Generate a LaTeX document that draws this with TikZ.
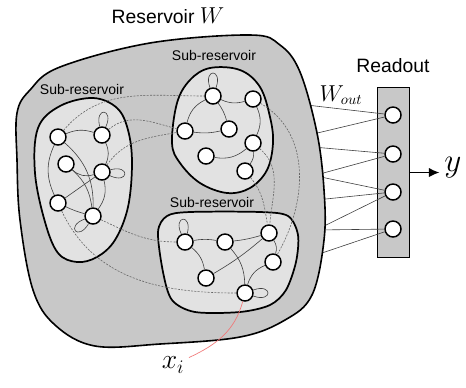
\documentclass[tikz,border=0pt]{standalone}
\usepackage{fontspec}
\setmainfont{Liberation Sans}
\usepackage{tikz}
\usetikzlibrary{arrows.meta}
\definecolor{resgray}{HTML}{C8C8C8}
\definecolor{subgray}{HTML}{E2E2E2}
\definecolor{wiregray}{HTML}{404040}
\definecolor{inred}{HTML}{F07878}
\tikzset{
  neuron/.style={circle,draw,fill=white,line width=1.1pt,minimum size=12pt,inner sep=0pt},
  wire/.style={wiregray,line width=0.45pt},
  link/.style={black!60,line width=0.45pt,dash pattern=on 1.5pt off 1pt},
  pool/.style={draw,fill=subgray,line width=1.3pt},
  sublabel/.style={font=\fontsize{10.5}{12}\selectfont}
}

\begin{document}
\begin{tikzpicture}[x=0.75pt,y=0.75pt]
\useasboundingbox (0,0) rectangle (466,-387);

\node[draw,fill=resgray,line width=1pt,minimum width=24.4pt,minimum height=127.5pt,inner sep=0pt] (readout) at (393.5,-172.5) {};
\node[neuron] (r1) at (393,-115) {};
\node[neuron] (r2) at (393,-154) {};
\node[neuron] (r3) at (393,-192) {};
\node[neuron] (r4) at (393,-229) {};
\node[font=\fontsize{14.5}{17}\selectfont] (rtitle) at (393,-66) {Readout};
\node[font=\fontsize{16}{18}\selectfont] (wout) at (341,-95) {$W_{out}$};
\node[font=\fontsize{25}{27}\selectfont] (y) at (453,-168) {$y$};
\draw[-{Latex[length=8pt,width=7pt]},line width=1.1pt] (readout) -- ++(46,0);

\coordinate (o1) at (298,-104);
\coordinate (o2) at (309,-135);
\coordinate (o3) at (313,-147);
\coordinate (o4) at (316,-175);
\coordinate (o5) at (316,-176);
\coordinate (o6) at (316,-200);
\coordinate (o7) at (318,-229);
\coordinate (o8) at (316,-230);
\coordinate (o9) at (316,-255);
\draw[wire] (o1) -- (r1);
\draw[wire] (o2) -- (r1);
\draw[wire] (o3) -- (r2);
\draw[wire] (o4) -- (r2);
\draw[wire] (o5) -- (r3);
\draw[wire] (o6) -- (r3);
\draw[wire] (o7) -- (r3);
\draw[wire] (o8) -- (r4);
\draw[wire] (o9) -- (r4);

\draw[fill=resgray,line width=1.2pt] plot[smooth cycle,tension=0.6] coordinates {(17,-113) (30,-90) (60,-67) (150,-43) (250,-35) (280,-45) (300,-72) (317,-133) (324,-190) (324,-240) (312,-295) (285,-320) (240,-337) (160,-344) (95,-346) (55,-325) (33,-290) (20,-220) (17,-160)};
\node[font=\fontsize{14.5}{17}\selectfont] (title) at (168,-16) {Reservoir \fontsize{19}{20}\selectfont$W$};

\draw[pool] plot[smooth cycle,tension=0.6] coordinates {(38,-128) (60,-106) (93,-98) (117,-108) (128,-130) (132,-163) (128,-207) (115,-240) (97,-257) (77,-262) (58,-253) (45,-222) (35,-173)};
\draw[pool] plot[smooth cycle,tension=0.6] coordinates {(172,-143) (177,-103) (190,-80) (210,-68) (240,-70) (260,-87) (270,-117) (273,-143) (267,-170) (250,-188) (227,-193) (200,-183) (180,-163)};
\draw[pool] plot[smooth cycle,tension=0.5] coordinates {(158,-232) (167,-216) (190,-212) (260,-212) (288,-216) (298,-235) (296,-262) (286,-290) (270,-305) (240,-312) (195,-312) (172,-300) (163,-272)};
\node[sublabel] (lleft) at (82,-89) {Sub-reservoir};
\node[sublabel] (ltop) at (214,-55) {Sub-reservoir};
\node[sublabel] (lbottom) at (212,-202) {Sub-reservoir};

\node[neuron] (n1) at (58,-137) {};
\node[neuron] (n2) at (102,-135) {};
\node[neuron] (n3) at (66,-164) {};
\node[neuron] (n4) at (102,-172) {};
\node[neuron] (n5) at (58,-203) {};
\node[neuron] (n6) at (93,-216) {};

\node[neuron] (m1) at (213,-96) {};
\node[neuron] (m2) at (253,-99) {};
\node[neuron] (m3) at (185,-131) {};
\node[neuron] (m4) at (229,-129) {};
\node[neuron] (m5) at (253,-143) {};
\node[neuron] (m6) at (206,-156) {};
\node[neuron] (m7) at (245,-171) {};

\node[neuron] (b1) at (185,-242) {};
\node[neuron] (b2) at (225,-242) {};
\node[neuron] (b3) at (269,-233) {};
\node[neuron] (b4) at (273,-262) {};
\node[neuron] (b5) at (206,-278) {};
\node[neuron] (b6) at (245,-293) {};

\draw[link] (n1) to[out=50,in=180] (m1);
\draw[link] (n2) to[out=40,in=165] (m3);
\draw[link] (n4) to[out=55,in=190] (m3);
\draw[link] (n5) to[out=-65,in=180] (b6);
\draw[link] (n6) to[out=-25,in=180] (b1);
\draw[link] (m2) to[out=-30,in=60] (b4);
\draw[link] (m5) to[out=-40,in=85] (b3);
\draw[link] (m7) to[out=-50,in=100] (b3);

\draw[wire] (n1) to[bend left=20] (n2);
\draw[wire] (n2) to[out=105,in=65,looseness=9] (n2);
\draw[wire] (n2) to[bend left=25] (n4);
\draw[wire] (n4) to[out=15,in=-25,looseness=9] (n4);
\draw[wire] (n3) to[bend right=30] (n4);
\draw[wire] (n1) to[bend left=25] (n6);
\draw[wire] (n3) to[bend left=20] (n6);
\draw[wire] (n1) to[bend right=25] (n5);
\draw[wire] (n5) -- (n4);
\draw[wire] (n5) to[bend right=5] (n6);
\draw[wire] (n6) to[out=-120,in=-160,looseness=9] (n6);
\draw[wire] (n4) to[bend left=25] (n6);

\draw[wire] (m1) to[out=110,in=70,looseness=9] (m1);
\draw[wire] (m1) to[bend right=20] (m2);
\draw[wire] (m1) to[bend right=25] (m3);
\draw[wire] (m1) to[bend left=10] (m4);
\draw[wire] (m3) to[bend right=10] (m4);
\draw[wire] (m2) to[bend left=25] (m5);
\draw[wire] (m6) to[bend right=25] (m5);
\draw[wire] (m5) to[bend left=20] (m7);

\draw[wire] (b1) to[out=115,in=75,looseness=9] (b1);
\draw[wire] (b1) to[bend left=10] (b2);
\draw[wire] (b2) to[bend right=5] (b3);
\draw[wire] (b1) to[bend left=20] (b5);
\draw[wire] (b5) to[bend right=5] (b3);
\draw[wire] (b2) to[bend left=20] (b6);
\draw[wire] (b3) to[bend left=25] (b4);
\draw[wire] (b4) to[bend right=25] (b6);
\draw[wire] (b6) to[out=20,in=-20,looseness=9] (b6);

\node[font=\fontsize{22}{24}\selectfont] (xi) at (173,-365) {$x_i$};
\draw[inred,line width=0.5pt] (b6) to[out=-105,in=25] (xi);
\end{tikzpicture}
\end{document}
